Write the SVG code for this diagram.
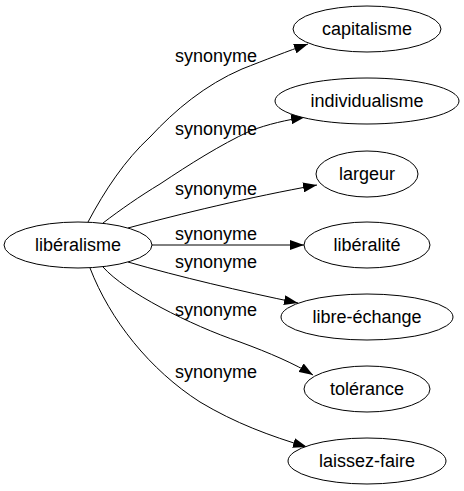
<svg xmlns="http://www.w3.org/2000/svg" width="464" height="491" viewBox="0 0 464 491">
<style>
.n ellipse{fill:#fff;stroke:#000;stroke-width:1}
text{font-family:"Liberation Sans",Arial,sans-serif;font-size:18px;fill:#000;text-anchor:middle}
.e path{fill:none;stroke:#000;stroke-width:1;marker-end:url(#ah)}
</style>
<defs>
<marker id="ah" markerUnits="userSpaceOnUse" markerWidth="14" markerHeight="10" refX="14" refY="5" orient="auto" viewBox="0 0 14 10">
<path d="M0,0 L14,5 L0,10 Z" fill="#000"/>
</marker>
</defs>
<rect width="464" height="491" fill="#fff"/>
<g id="edges" class="e">
<path d="M88,222 C105,190 125,160 150,137 C175,110 205,85 242,69 C265,60 288,51 308,44"/>
<path d="M103,223 C120,210 140,196 160,184 C190,164 220,145 250,131 C268,124 287,120 305,117"/>
<path d="M128,228 C180,214 250,197 317,185"/>
<path d="M152,245 L304,245"/>
<path d="M128,262 C180,277 240,291 298,303"/>
<path d="M103,267 C125,292 190,325 240,342 C270,353 295,364 313,375"/>
<path d="M90,268 C110,320 150,370 200,402 C235,423 270,436 307,447"/>
</g>
<g id="edge-labels">
<text x="216" y="62">synonyme</text>
<text x="216" y="135">synonyme</text>
<text x="216" y="195">synonyme</text>
<text x="216" y="240">synonyme</text>
<text x="216" y="268">synonyme</text>
<text x="216" y="316">synonyme</text>
<text x="216" y="378">synonyme</text>
</g>
<g id="liberalisme" class="n"><ellipse cx="78" cy="245" rx="74" ry="23"/><text x="78" y="251">libéralisme</text></g>
<g id="capitalisme" class="n"><ellipse cx="367" cy="29" rx="74" ry="23"/><text x="367" y="35">capitalisme</text></g>
<g id="individualisme" class="n"><ellipse cx="367" cy="101" rx="92" ry="23"/><text x="367" y="107">individualisme</text></g>
<g id="largeur" class="n"><ellipse cx="367" cy="174" rx="51" ry="23"/><text x="367" y="180">largeur</text></g>
<g id="liberalite" class="n"><ellipse cx="367" cy="245" rx="63" ry="23"/><text x="367" y="251">libéralité</text></g>
<g id="libre-echange" class="n"><ellipse cx="367" cy="317" rx="86" ry="23"/><text x="367" y="323">libre-échange</text></g>
<g id="tolerance" class="n"><ellipse cx="367" cy="389" rx="63" ry="23"/><text x="367" y="395">tolérance</text></g>
<g id="laissez-faire" class="n"><ellipse cx="367" cy="461" rx="79" ry="23"/><text x="367" y="467">laissez-faire</text></g>
</svg>
